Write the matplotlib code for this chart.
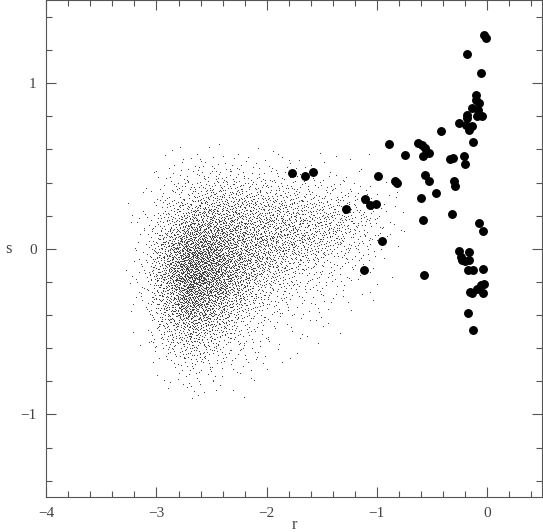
import numpy as np
import matplotlib
matplotlib.use("Agg")
import matplotlib.pyplot as plt

# big dots (r, s)
big_r = [-0.03, -0.01, -0.18, -0.05, -0.10, -0.10, -0.075, -0.14, -0.077, -0.177,
         -0.177, -0.09, -0.044, -0.25, -0.186, -0.14, -0.165, -0.415, -0.13, -0.63,
         -0.59, -0.56, -0.525, -0.74, -0.576, -0.31, -0.334, -0.204, -0.89, -0.20,
         -0.99, -0.835, -0.82, -0.56, -0.53, -0.30, -0.286, -1.77, -1.65, -1.58,
         -0.46, -0.60, -0.316, -0.58, -1.11, -1.275, -1.06, -1.01, -0.95, -1.12,
         -0.57, -0.07, -0.04, -0.25, -0.16, -0.24, -0.225, -0.20, -0.165, -0.168,
         -0.13, -0.04, -0.05, -0.025, -0.09, -0.15, -0.14, -0.04, -0.174, -0.125]
big_s = [1.29, 1.275, 1.175, 1.06, 0.927, 0.90, 0.88, 0.85, 0.84, 0.81,
         0.79, 0.80, 0.80, 0.76, 0.75, 0.74, 0.72, 0.71, 0.645, 0.637,
         0.625, 0.607, 0.58, 0.566, 0.562, 0.55, 0.544, 0.56, 0.63, 0.51,
         0.44, 0.407, 0.395, 0.447, 0.41, 0.407, 0.38, 0.456, 0.44, 0.463,
         0.335, 0.306, 0.21, 0.175, 0.30, 0.238, 0.264, 0.268, 0.05, -0.13,
         -0.16, 0.153, 0.105, -0.012, -0.02, -0.048, -0.068, -0.074, -0.068, -0.13,
         -0.125, -0.123, -0.218, -0.215, -0.244, -0.26, -0.266, -0.266, -0.39, -0.49]

# small-dot cloud: approximate number of dots per 0.2 x 0.1 cell
# cell centres: r from -3.1 to -0.9, s from 0.55 down to -0.85
cloud_r_centres = [-3.1, -2.9, -2.7, -2.5, -2.3, -2.1, -1.9, -1.7, -1.5, -1.3, -1.1, -0.9]
cloud_s_centres = [0.55, 0.45, 0.35, 0.25, 0.15, 0.05, -0.05, -0.15, -0.25, -0.35,
                   -0.45, -0.55, -0.65, -0.75, -0.85]
cloud_counts = [
    [0, 2, 4, 5, 5, 4, 3, 2, 2, 1, 1, 0],
    [0, 4, 10, 15, 15, 12, 9, 7, 5, 3, 2, 1],
    [2, 10, 25, 38, 38, 32, 25, 20, 16, 10, 6, 3],
    [4, 22, 55, 70, 65, 58, 50, 44, 38, 30, 16, 5],
    [7, 40, 95, 105, 88, 75, 66, 58, 50, 40, 22, 7],
    [10, 65, 145, 140, 108, 85, 70, 60, 46, 30, 14, 4],
    [12, 85, 185, 165, 115, 82, 58, 42, 26, 14, 7, 2],
    [12, 92, 195, 170, 105, 64, 40, 22, 13, 8, 4, 1],
    [10, 82, 175, 145, 84, 44, 24, 13, 8, 5, 2, 1],
    [7, 66, 140, 104, 54, 27, 14, 8, 5, 3, 1, 0],
    [4, 43, 92, 70, 33, 15, 7, 4, 2, 1, 0, 0],
    [2, 25, 56, 41, 18, 8, 4, 2, 1, 0, 0, 0],
    [1, 11, 27, 19, 8, 4, 2, 1, 0, 0, 0, 0],
    [0, 4, 11, 8, 4, 2, 1, 0, 0, 0, 0, 0],
    [0, 1, 4, 3, 1, 0, 0, 0, 0, 0, 0, 0],
]


def halton(n, base):
    """radical inverse of 1..n in the given base"""
    i = np.arange(1, n + 1)
    out = np.zeros(n)
    f = 1.0
    while np.any(i > 0):
        f /= base
        out += f * (i % base)
        i //= base
    return out


def lay_out_cloud(r_c, s_c, counts):
    """Place dots evenly (Halton, thinned) following the cell counts."""
    r_c = np.asarray(r_c)
    s_c = np.asarray(s_c)[::-1]
    dens = np.asarray(counts, float)[::-1]
    # zero border so the cloud fades out instead of stopping at a cell edge
    dens = np.pad(dens, 1)
    dr, ds = r_c[1] - r_c[0], s_c[1] - s_c[0]
    r_c = np.concatenate([[r_c[0] - dr], r_c, [r_c[-1] + dr]])
    s_c = np.concatenate([[s_c[0] - ds], s_c, [s_c[-1] + ds]])

    n_cand = int(dens.max() * dens.size)
    u0, u1, u2 = halton(n_cand, 2), halton(n_cand, 3), halton(n_cand, 5)
    r = r_c[0] + u0 * (r_c[-1] - r_c[0])
    s = s_c[0] + u1 * (s_c[-1] - s_c[0])
    fi = (s - s_c[0]) / ds
    fj = (r - r_c[0]) / dr
    i0 = np.clip(fi.astype(int), 0, len(s_c) - 2)
    j0 = np.clip(fj.astype(int), 0, len(r_c) - 2)
    ti, tj = fi - i0, fj - j0
    d = (dens[i0, j0] * (1 - ti) * (1 - tj) + dens[i0 + 1, j0] * ti * (1 - tj)
         + dens[i0, j0 + 1] * (1 - ti) * tj + dens[i0 + 1, j0 + 1] * ti * tj)
    keep = u2 < d / dens.max()
    return r[keep], s[keep]


cloud_r, cloud_s = lay_out_cloud(cloud_r_centres, cloud_s_centres, cloud_counts)

plt.rcParams["font.family"] = ["Liberation Serif", "DejaVu Serif"]
fig = plt.figure(figsize=(5.43, 5.32), dpi=100)
ax = fig.add_axes([0.0853, 0.0652, 0.9129, 0.9342])

ax.scatter(cloud_r, cloud_s, s=0.65, c="#333333", linewidths=0, zorder=1)
ax.plot(big_r, big_s, "o", color="black", markersize=5.4, zorder=2)

ax.set_xlim(-4, 0.5)
ax.set_ylim(-1.5, 1.5)
ax.set_xticks([-4, -3, -2, -1, 0])
ax.set_yticks([-1, 0, 1])
ax.set_xticks(np.arange(-3.8, 0.5, 0.2), minor=True)
ax.set_yticks(np.arange(-1.4, 1.5, 0.2), minor=True)
ax.tick_params(which="both", direction="in", top=True, right=True,
               color="#555555", labelcolor="#444444", labelsize=11)
ax.tick_params(which="major", length=7.5, width=0.8, pad=7)
ax.tick_params(which="minor", length=4, width=0.8)
for sp in ax.spines.values():
    sp.set_color("#555555")
    sp.set_linewidth(0.8)

ax.set_xlabel("r", fontsize=12, color="#444444", labelpad=-2)
ax.set_ylabel("s", fontsize=12, color="#444444", rotation=0, va="center", ha="center")
ax.yaxis.set_label_coords(-0.076, 0.5)

fig.savefig("out.png", dpi=100)
